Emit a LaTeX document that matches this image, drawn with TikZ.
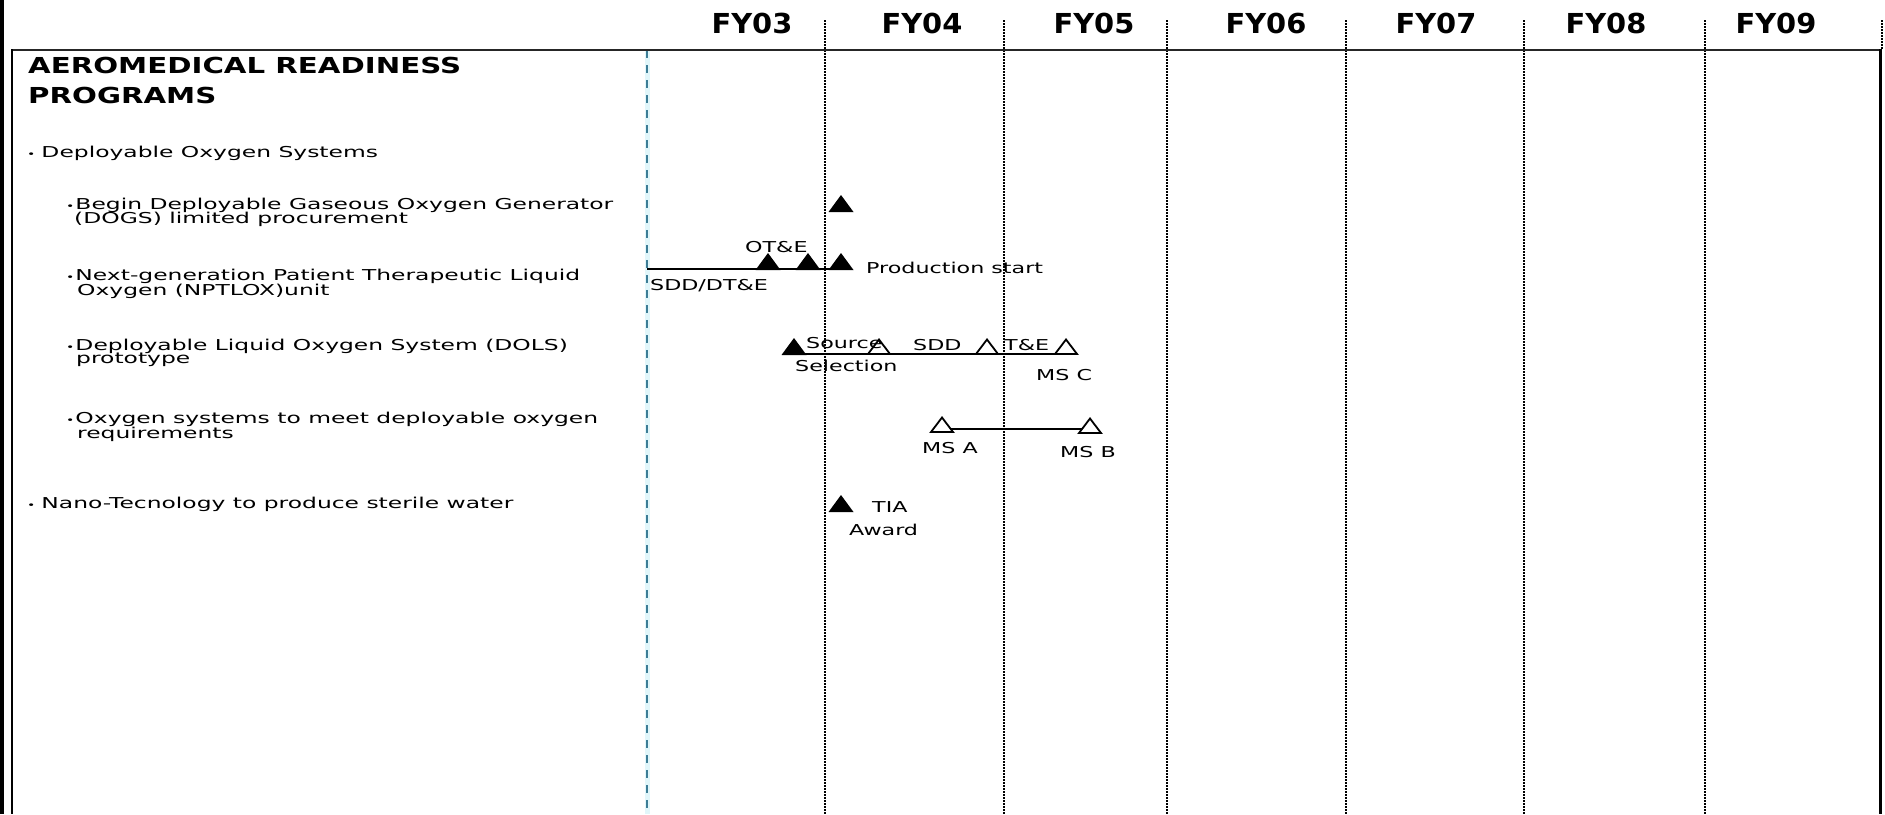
\documentclass[tikz,border=0pt]{standalone}
\usepackage{fontspec}
\setmainfont{DejaVu Sans}
\newfontfamily\rowfont[FakeStretch=1.56]{DejaVu Sans}
\newfontfamily\tagfont[FakeStretch=1.48]{DejaVu Sans}
\newfontfamily\headfont[FakeStretch=1.33]{DejaVu Sans}
\newfontfamily\yearfont[FakeStretch=1.05]{DejaVu Sans}
\newcommand\rowbul{{\fontsize{9}{9}\selectfont\textbullet}}
\definecolor{gridblue}{RGB}{60,125,150}
\definecolor{gridhalo}{RGB}{225,246,250}
\begin{document}
\begin{tikzpicture}[x=1pt,y=-1pt,
  lbl/.style={inner sep=0pt, anchor=base west, font=\rowfont\fontsize{15}{15}\selectfont},
  tag/.style={inner sep=0pt, anchor=base west, font=\tagfont\fontsize{15}{15}\selectfont},
  ttl/.style={inner sep=0pt, anchor=base west, font=\headfont\bfseries\fontsize{22}{22}\selectfont},
  yr/.style={inner sep=0pt, anchor=base, font=\yearfont\bfseries\fontsize{27.5}{28}\selectfont},
  divider/.style={line width=1.5pt, dash pattern=on 1.5pt off 1.5pt},
  bar/.style={line width=2pt},
  msdone/.pic={\fill (-12.5,0) -- (0,-17) -- (12.5,0) -- cycle;},
  msplan/.pic={\filldraw[fill=white, line width=1.8pt, line join=miter] (-11,-1) -- (0,-15.5) -- (11,-1) -- cycle;},
]
\useasboundingbox (0,0) rectangle (1885,814);
\fill[white] (0,0) rectangle (1885,814);

% fiscal-year column dividers
\foreach \x in {825,1004,1167,1346,1524,1705}
  \draw[divider] (\x,20) -- (\x,814);
\draw[divider] (1882,20) -- (1882,50);

% "today" line
\draw[line width=5pt, gridhalo] (647,50) -- (647,814);
\draw[line width=1.6pt, gridblue, dash pattern=on 8pt off 7pt] (647,50) -- (647,814);

% frame
\draw[line width=2.2pt, black!85] (11,50) -- (1881,50);
\draw[line width=3.5pt] (1.75,0) -- (1.75,814);
\draw[line width=2pt] (12,49) -- (12,814);
\draw[line width=3pt] (1880,49) -- (1880,814);

% year headings
\node[yr] (fy03) at (752,33) {FY03};
\node[yr] (fy04) at (922,33) {FY04};
\node[yr] (fy05) at (1094,33) {FY05};
\node[yr] (fy06) at (1266,33) {FY06};
\node[yr] (fy07) at (1436,33) {FY07};
\node[yr] (fy08) at (1606,33) {FY08};
\node[yr] (fy09) at (1776,33) {FY09};

% program titles
\node[ttl] (ttlA) at (28,73) {AEROMEDICAL READINESS};
\node[ttl] (ttlB) at (28,103) {PROGRAMS};

\node[lbl] (it1) at (27,157) {\rowbul\hspace{6pt}Deployable Oxygen Systems};
\node[lbl] (it2a) at (66,209) {\rowbul\hspace{1pt}Begin Deployable Gaseous Oxygen Generator};
\node[lbl] (it2b) at (74,223) {(DOGS) limited procurement};
\node[lbl] (it3a) at (66,280) {\rowbul\hspace{1pt}Next-generation Patient Therapeutic Liquid};
\node[lbl] (it3b) at (77,295) {Oxygen (NPTLOX)unit};
\node[lbl] (it4a) at (66,350) {\rowbul\hspace{1pt}Deployable Liquid Oxygen System (DOLS)};
\node[lbl] (it4b) at (76,363) {prototype};
\node[lbl] (it5a) at (66,423) {\rowbul\hspace{1pt}Oxygen systems to meet deployable oxygen};
\node[lbl] (it5b) at (77,438) {requirements};
\node[lbl] (it6) at (27,508) {\rowbul\hspace{6pt}Nano-Tecnology to produce sterile water};

% milestone positions (base centre of each triangle)
\coordinate (dogs) at (841,212);
\coordinate (npt0) at (647,270);
\coordinate (nptA) at (768,270);
\coordinate (nptB) at (808,270);
\coordinate (nptC) at (841,270);
\coordinate (dolsA) at (794,355);
\coordinate (dolsB) at (879,355);
\coordinate (dolsC) at (987,355);
\coordinate (dolsD) at (1066,355);
\coordinate (oxA) at (942,433);
\coordinate (oxB) at (1090,434);
\coordinate (tia) at (841,512);

% schedule bars
\draw[bar] ([yshift=1pt]npt0) -- ([yshift=1pt]nptC);
\draw[bar] ([yshift=1.5pt]dolsA) -- ([yshift=1.5pt]dolsD);
\draw[bar] ([yshift=4pt]oxA) -- ([yshift=4pt]oxB |- oxA);

% milestones
\pic at (dogs) {msdone};
\pic at (nptA) {msdone};
\pic at (nptB) {msdone};
\pic at (nptC) {msdone};
\pic at (dolsA) {msdone};
\pic at (dolsB) {msplan};
\pic at (dolsC) {msplan};
\pic at (dolsD) {msplan};
\pic at (oxA) {msplan};
\pic at (oxB) {msplan};
\pic at (tia) {msdone};

% milestone labels
\node[tag] (lotae) at (745,252) {OT\&E};
\node[tag] (lsdd1) at (650,290) {SDD/DT\&E};
\node[tag] (lprod) at (866,273) {Production start};
\node[tag] (lsrc) at (806,348) {Source};
\node[tag] (lsel) at (795,371) {Selection};
\node[tag] (lsdd2) at (913,350) {SDD};
\node[tag] (lte) at (1004,350) {T\&E};
\node[tag] (lmsc) at (1036,380) {MS C};
\node[tag] (lmsa) at (922,453) {MS A};
\node[tag] (lmsb) at (1060,457) {MS B};
\node[tag] (ltia) at (872,512) {TIA};
\node[tag] (lawd) at (849,535) {Award};
\end{tikzpicture}
\end{document}
